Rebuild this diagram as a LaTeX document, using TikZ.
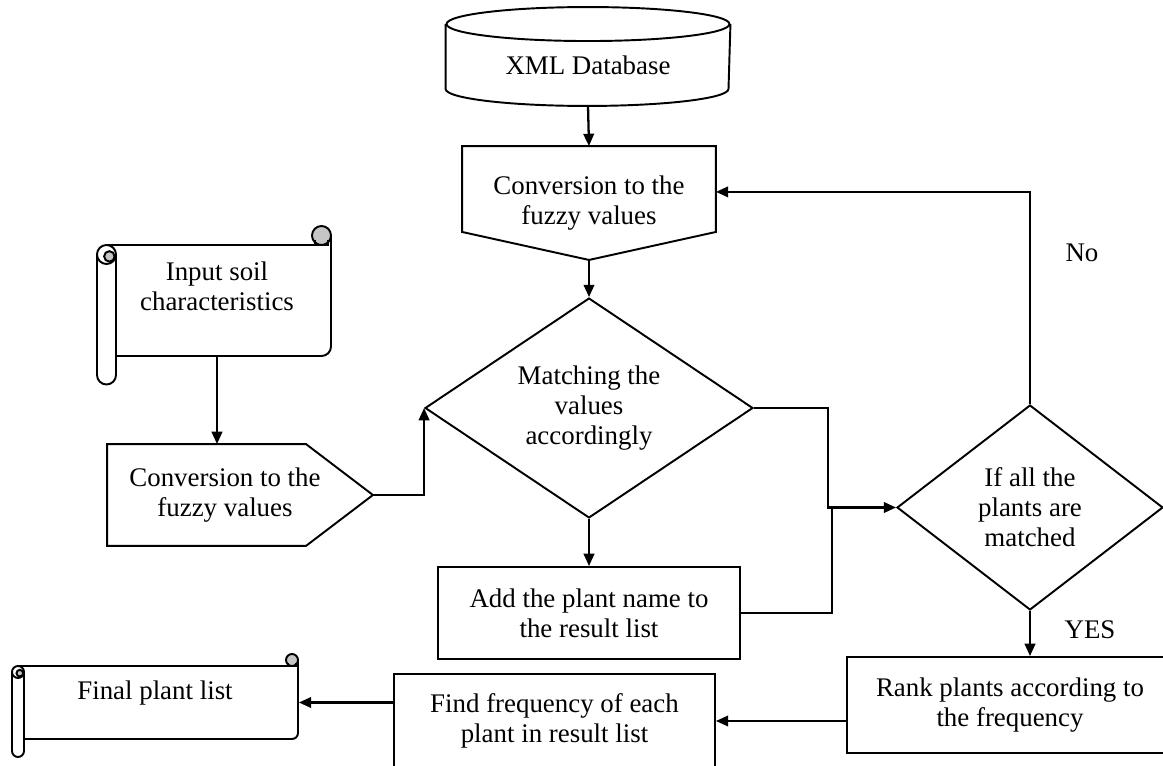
\documentclass[tikz,border=0pt]{standalone}
\usepackage{fontspec}
\setmainfont{Liberation Serif}
\usetikzlibrary{positioning, calc, shapes.geometric, arrows.meta}

% scroll outline: left, top, right, bottom, roll radius (all in px units)
\newcommand{\scrollframe}[5]{%
  \pgfmathsetmacro{\scrr}{#5*0.02}%
  \pgfmathsetmacro{\scrh}{#5*0.011}%
  \draw ({#1+#5},#2) -- ({#3-#5},#2);
  \draw (#3,{#2-#5}) -- (#3,{#4-#5}) arc[start angle=0, end angle=-90, radius=\scrr cm] -- ({#1+2*#5},#4);
  \filldraw[fill=gray!45] ({#3-#5},{#2-#5}) circle[radius=\scrr cm];
  \draw ({#3-1.7*#5},{#2-0.5*#5}) -- ({#3-1.7*#5},#2) -- ({#3-0.3*#5},#2) -- ({#3-0.3*#5},{#2-0.5*#5});
  \draw (#1,{#2+#5}) -- (#1,{#4+2*#5}) arc[start angle=180, end angle=360, radius=\scrr cm] -- ({#1+2*#5},{#2+#5});
  \draw[fill=white] ({#1+#5},{#2+#5}) circle[radius=\scrr cm];
  \filldraw[fill=gray!45] ({#1+1.3*#5},{#2+1.2*#5}) circle[radius=\scrh cm];
}

\begin{document}
\begin{tikzpicture}[x=0.02cm, y=-0.02cm, line width=1.1pt,
    every node/.style={font=\fontsize{15.3}{17}\selectfont},
    procbox/.style={draw, align=center, inner sep=0pt},
    plainbox/.style={align=center, inner sep=0pt},
    decision/.style={diamond, draw, align=center, inner sep=0pt},
    flow/.style={-{Triangle[length=7pt, width=6pt]}, line width=1.3pt}]
    \useasboundingbox (0,0) rectangle (1163,766);

    \node[plainbox, minimum width=5.66cm, minimum height=1.6cm] (xmldb) at (588,65) {XML Database};
    \draw (xmldb.north west) -- ($(xmldb.south west)+(0,-17)$) arc[start angle=180, end angle=360, x radius=2.83cm, y radius=0.34cm] -- (xmldb.north east);
    \draw (xmldb.north) ellipse [x radius=2.83cm, y radius=0.34cm];

    \node[plainbox, minimum width=5.04cm, minimum height=2.24cm] (convt) at (589,203) {Conversion to the\\fuzzy values};
    \draw (convt.north west) -- (convt.north east) -- ($(convt.south east)+(0,-28)$) -- (convt.south) -- ($(convt.south west)+(0,-28)$) -- cycle;

    \node[decision, aspect=1.5, minimum width=6.56cm, minimum height=4.4cm] (match) at (589,408) {Matching the\\values\\accordingly};

    \scrollframe{97}{245}{331}{356}{9.5}
    \node[plainbox, minimum width=4.3cm, minimum height=2.22cm] (insoil) at (223.5,300.5) {};
    \node[plainbox] (insoiltext) at (217,286) {Input soil\\characteristics};

    \node[plainbox, minimum width=4.68cm, minimum height=2cm] (convl) at (225,495) {Conversion to the\\fuzzy values};
    \draw (convl.north west) -- ($(convl.north east)+(-37,0)$) -- ($(convl.east)+(30,0)$) coordinate (convltip) -- ($(convl.south east)+(-37,0)$) -- (convl.south west) -- cycle;

    \node[procbox, minimum width=6.04cm, minimum height=1.84cm] (add) at (589,613) {Add the plant name to\\the result list};

    \node[decision, aspect=1.3, minimum width=5.32cm, minimum height=4.1cm] (ifm) at (1030,507.5) {If all the\\plants are\\matched};

    \node[procbox, minimum width=6.52cm, minimum height=1.92cm] (rank) at (1010,705) {Rank plants according to\\the frequency};
    \node[procbox, minimum width=6.42cm, minimum height=1.88cm] (find) at (554.5,721) {Find frequency of each\\plant in result list};

    \scrollframe{12}{666}{298}{739}{6}
    \node[plainbox, minimum width=5.48cm, minimum height=1.46cm] (final) at (161,702.5) {};
    \node[plainbox] (finaltext) at (155,693) {Final plant list};

    \node (nolbl) at (1082,253) {No};
    \node (yeslbl) at (1090,630) {YES};

    \draw[flow] (xmldb.south) -- (convt.north);
    \draw[flow] (convt.south) -- (match.north);
    \draw[flow] (match.south) -- (add.north);
    \draw[flow] (insoiltext |- insoil.south) -- (insoiltext |- convl.north);
    \draw[flow] (convltip) -| (match.west);
    \draw[flow] (match.east) -- ++(74,0) |- (ifm.west);
    \coordinate (addjoin) at ($(ifm.west)+(-64,0)$);
    \draw (add.east) -| (addjoin);
    \draw[flow] (ifm.north) |- (convt.5);
    \draw[flow] (ifm.south) -- (ifm.south |- rank.north);
    \draw[flow] (rank.west |- find.east) -- (find.east);
    \draw[flow] (find.west |- final.east) -- (final.east);

\end{tikzpicture}
\end{document}
